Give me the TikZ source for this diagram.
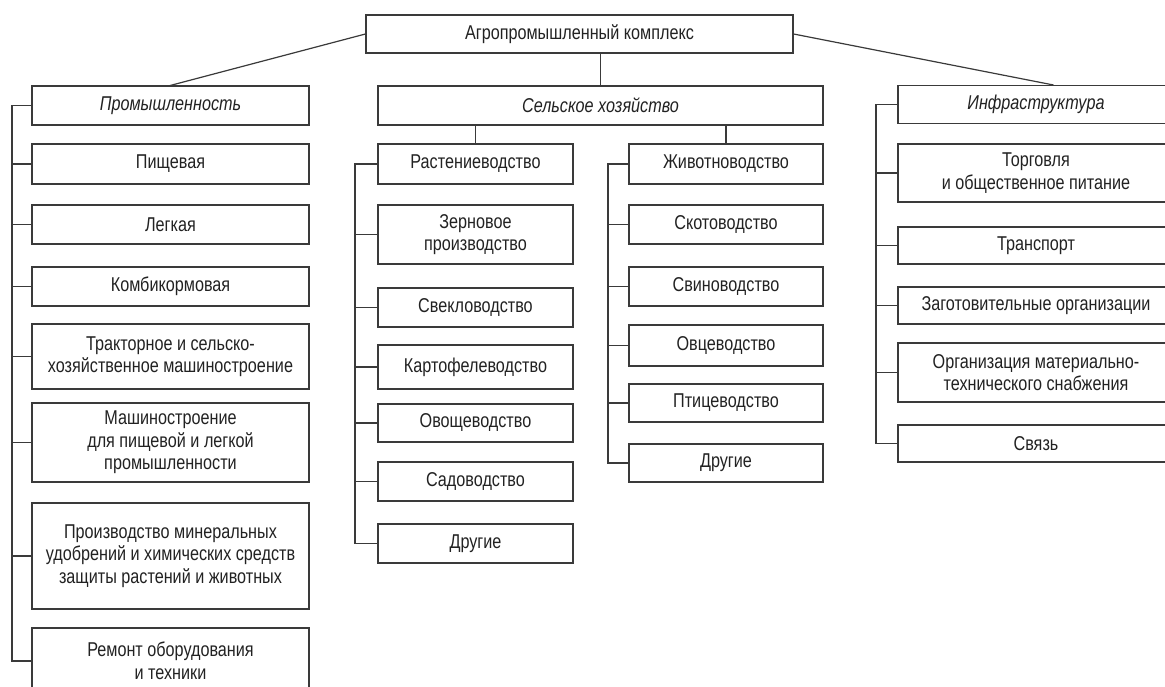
\documentclass[tikz,border=0pt]{standalone}
\usepackage{fontspec}
\setmainfont{Liberation Sans}[FakeStretch=0.81]
\definecolor{linec}{HTML}{3A3A3A}
\definecolor{textc}{HTML}{222222}
\tikzset{
  box/.style={draw=linec, line width=1.2pt, inner sep=0pt, align=center, text=textc,
    font=\fontsize{20}{22.5}\selectfont, fill=white},
  pcol/.style={box, minimum width=277pt},
  rcol/.style={box, minimum width=195pt},
  zcol/.style={box, minimum width=194pt},
  icol/.style={box, minimum width=276pt},
  conn/.style={draw=linec, line width=1.2pt, line cap=rect},
}
\begin{document}
\begin{tikzpicture}[x=1pt,y=-1pt]
\useasboundingbox (0,0) rectangle (1165,686);
\fill[white] (0,0) rectangle (1165,686);
\clip (0,0) rectangle (1165,686);

% top
\node[box, minimum width=427pt, minimum height=38pt] (top) at (579.5,34) {Агропромышленный комплекс};

% level 1
\node[pcol, minimum height=39pt] (prom) at (170.5,105.5) {\itshape Промышленность};
\node[box, minimum width=445pt, minimum height=39pt] (sel) at (600.5,105.5) {\itshape Сельское хозяйство};
\node[icol, minimum height=38pt] (inf) at (1036,104.5) {\itshape Инфраструктура};

\draw[conn] (top.west) -- (prom.north);
\draw[conn] (top.east) -- ([xshift=17pt]inf.north);
\draw[conn] (sel.north) -- (sel.north |- top.south);

% Промышленность column
\node[pcol, minimum height=40pt] (p1) at (170.5,164) {Пищевая};
\node[pcol, minimum height=39pt] (p2) at (170.5,224.5) {Легкая};
\node[pcol, minimum height=39pt] (p3) at (170.5,286.5) {Комбикормовая};
\node[pcol, minimum height=65pt] (p4) at (170.5,356.5) {Тракторное и сельско-\\хозяйственное машиностроение};
\node[pcol, minimum height=79pt] (p5) at (170.5,442.5) {Машиностроение\\для пищевой и легкой\\промышленности};
\node[pcol, minimum height=106pt] (p6) at (170.5,556) {Производство минеральных\\удобрений и химических средств\\защиты растений и животных};
\node[pcol, minimum height=66pt] (p7) at (170.5,661) {Ремонт оборудования\\и техники};

\coordinate (ptr) at (12,0);
\draw[conn] (prom.west -| ptr) -- (p7.west -| ptr);
\foreach \n in {prom,p1,p2,p3,p4,p5,p6,p7} \draw[conn] (\n.west) -- (\n.west -| ptr);

% Растениеводство column
\node[rcol, minimum height=40pt] (r0) at (475.5,164) {Растениеводство};
\node[rcol, minimum height=59pt] (r1) at (475.5,234.5) {Зерновое\\производство};
\node[rcol, minimum height=39pt] (r2) at (475.5,307.5) {Свекловодство};
\node[rcol, minimum height=44pt] (r3) at (475.5,367) {Картофелеводство};
\node[rcol, minimum height=38pt] (r4) at (475.5,423) {Овощеводство};
\node[rcol, minimum height=39pt] (r5) at (475.5,481.5) {Садоводство};
\node[rcol, minimum height=39pt] (r6) at (475.5,543.5) {Другие};

\draw[conn] (r0.north) -- (r0.north |- sel.south);
\coordinate (rtr) at (355,0);
\draw[conn] (r0.west -| rtr) -- (r6.west -| rtr);
\foreach \n in {r0,r1,r2,r3,r4,r5,r6} \draw[conn] (\n.west) -- (\n.west -| rtr);

% Животноводство column
\node[zcol, minimum height=40pt] (z0) at (726,164) {Животноводство};
\node[zcol, minimum height=39pt] (z1) at (726,224.5) {Скотоводство};
\node[zcol, minimum height=39pt] (z2) at (726,286.5) {Свиноводство};
\node[zcol, minimum height=41pt] (z3) at (726,345.5) {Овцеводство};
\node[zcol, minimum height=38pt] (z4) at (726,403) {Птицеводство};
\node[zcol, minimum height=38pt] (z5) at (726,463) {Другие};

\draw[conn] (z0.north) -- (z0.north |- sel.south);
\coordinate (ztr) at (608,0);
\draw[conn] (z0.west -| ztr) -- (z5.west -| ztr);
\foreach \n in {z0,z1,z2,z3,z4,z5} \draw[conn] (\n.west) -- (\n.west -| ztr);

% Инфраструктура column
\node[icol, minimum height=58pt] (i1) at (1036,173) {Торговля\\и общественное питание};
\node[icol, minimum height=37pt] (i2) at (1036,245.5) {Транспорт};
\node[icol, minimum height=37pt] (i3) at (1036,305.5) {Заготовительные организации};
\node[icol, minimum height=59pt] (i4) at (1036,372.5) {Организация материально-\\технического снабжения};
\node[icol, minimum height=37pt] (i5) at (1036,443.5) {Связь};

\coordinate (itr) at (876,0);
\draw[conn] (inf.west -| itr) -- (i5.west -| itr);
\foreach \n in {inf,i1,i2,i3,i4,i5} \draw[conn] (\n.west) -- (\n.west -| itr);
\end{tikzpicture}
\end{document}
